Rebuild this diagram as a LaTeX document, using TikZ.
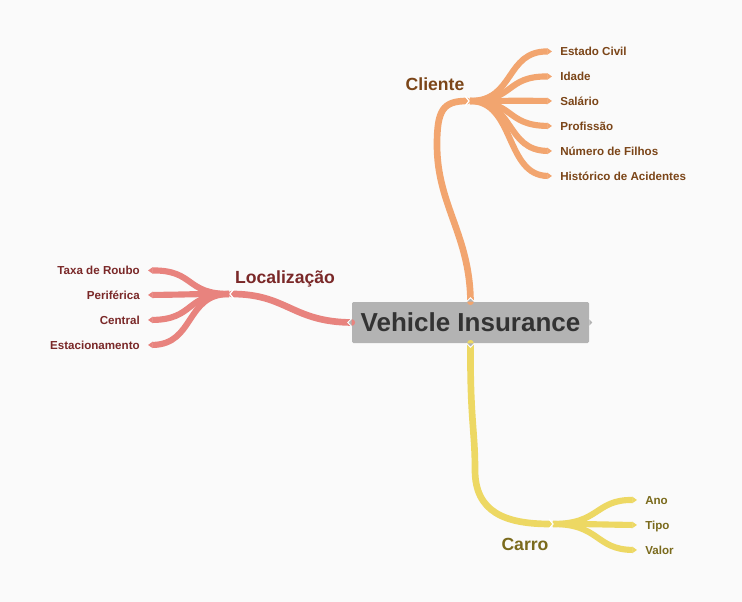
\documentclass[tikz,border=0pt]{standalone}
\usepackage{fontspec}
\setmainfont{Liberation Sans}
\usetikzlibrary{arrows.meta}
\definecolor{bgc}{HTML}{FAFAFA}
\definecolor{boxc}{HTML}{B3B3B3}
\definecolor{boxt}{HTML}{333333}
\definecolor{orl}{HTML}{F2A56F}
\definecolor{ort}{HTML}{7B4518}
\definecolor{rdl}{HTML}{E8837E}
\definecolor{rdt}{HTML}{7A2828}
\definecolor{yll}{HTML}{EDD863}
\definecolor{ylt}{HTML}{7A6A1C}
\tikzset{
  mainline/.style={line width=5pt, line cap=round},
  leafline/.style={line width=4.6pt, -{Triangle[length=3.5pt,width=0pt 1]}},
  leaftext/.style={font=\fontsize{8.7}{10}\selectfont\bfseries, inner sep=0pt, inner xsep=6pt, text height=6.3pt, text depth=0pt},
  branchtext/.style={font=\fontsize{13.2}{15}\selectfont\bfseries, inner sep=0pt, text height=9.5pt, text depth=0pt},
  notch/.style={fill=boxc, draw=white, line width=0.6pt},
  chev/.style={draw=white, line width=0.9pt}
}
\begin{document}
\begin{tikzpicture}[x=0.75pt,y=-0.75pt]
\fill[bgc] (0,0) rectangle (742,602);
\useasboundingbox (0,0) rectangle (742,602);

% central node
\node[fill=boxc, rounded corners=1pt, minimum width=177.75pt, minimum height=30.75pt, inner sep=0pt,
      text=boxt, font=\fontsize{19.5}{22}\selectfont\bfseries] (c) at (470.5,322.5) {Vehicle Insurance};

% hubs
\coordinate (cl) at (467,101);
\coordinate (clb) at (470,101);
\coordinate (lo) at (232,294);
\coordinate (lob) at (229,294);
\coordinate (ca) at (550,524);
\coordinate (cab) at (553,524);

% branch labels
\node[branchtext, text=ort] (tcl) at (435,84) {Cliente};
\node[branchtext, text=rdt] (tlo) at (285,277) {Localização};
\node[branchtext, text=ylt] (tca) at (525,544) {Carro};

% leaf texts
\node[leaftext, text=ort, anchor=west] (l1) at (552,51.5) {Estado Civil};
\node[leaftext, text=ort, anchor=west] (l2) at (552,76.5) {Idade};
\node[leaftext, text=ort, anchor=west] (l3) at (552,101) {Salário};
\node[leaftext, text=ort, anchor=west] (l4) at (552,126) {Profissão};
\node[leaftext, text=ort, anchor=west] (l5) at (552,151) {Número de Filhos};
\node[leaftext, text=ort, anchor=west] (l6) at (552,176) {Histórico de Acidentes};

\node[leaftext, text=rdt, anchor=east] (r1) at (148,270.5) {Taxa de Roubo};
\node[leaftext, text=rdt, anchor=east] (r2) at (148,295) {Periférica};
\node[leaftext, text=rdt, anchor=east] (r3) at (148,320) {Central};
\node[leaftext, text=rdt, anchor=east] (r4) at (148,345) {Estacionamento};

\node[leaftext, text=ylt, anchor=west] (y1) at (637,500) {Ano};
\node[leaftext, text=ylt, anchor=west] (y2) at (637,525) {Tipo};
\node[leaftext, text=ylt, anchor=west] (y3) at (637,550) {Valor};

% main connectors
\draw[mainline, orl] (c.north) .. controls (470,235) and (437,205) .. (437,145) .. controls (437,110) and (443,101) .. (cl);
\draw[mainline, rdl] (c.west) .. controls (292,322) and (287,294) .. (lo);
\draw[mainline, yll] (c.south) .. controls (470,420) and (475,430) .. (475,470) .. controls (475,512) and (505,524) .. (ca);

% leaf connectors
\foreach \n/\yy in {l1/51,l2/76,l3/100.5,l4/125.5,l5/150.5,l6/175.5}
  \draw[leafline, orl] (clb) .. controls (515,101) and (505,\yy) .. (\n.west);
\foreach \n/\yy in {r1/270,r2/294.5,r3/319.5,r4/344.5}
  \draw[leafline, rdl] (lob) .. controls (185,294) and (195,\yy) .. (\n.east);
\foreach \n/\yy in {y1/499.5,y2/524.5,y3/549.5}
  \draw[leafline, yll] (cab) .. controls (600,524) and (595,\yy) .. (\n.west);

% notches on the central node
\draw[notch] ([yshift=3pt]c.west) -- ++(-4,4) -- ++(4,4);
\draw[notch] ([yshift=3pt]c.east) -- ++(4,4) -- ++(-4,4);
\draw[notch] ([xshift=-3pt]c.north) -- ++(4,-4) -- ++(4,4);
\draw[notch] ([xshift=-3pt]c.south) -- ++(4,4) -- ++(4,-4);

% chevrons at hubs
\draw[chev] (465,96) -- (469,101) -- (465,106);
\draw[chev] (234,289) -- (230,294) -- (234,299);
\draw[chev] (549,519) -- (553,524) -- (549,529);
\end{tikzpicture}
\end{document}
